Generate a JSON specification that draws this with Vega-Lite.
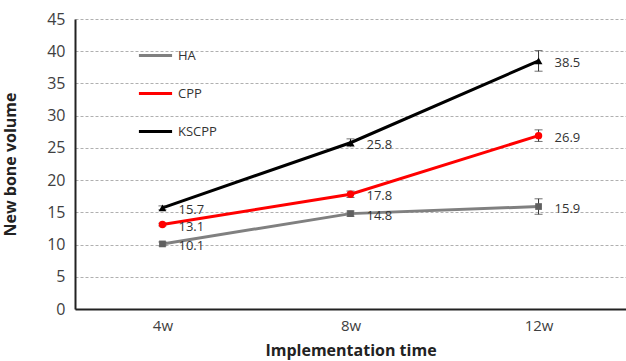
{
  "$schema": "https://vega.github.io/schema/vega-lite/v6.json",
  "width": 551,
  "height": 290,
  "autosize": {"type": "none"},
  "padding": {"left": 75, "top": 19, "right": 0, "bottom": 52},
  "background": "white",
  "config": {
    "font": "Open Sans",
    "view": {"stroke": null}
  },
  "data": {
    "values": [
      {"time": "4w", "group": "HA", "value": 10.1, "lo": 9.8, "hi": 10.4},
      {"time": "8w", "group": "HA", "value": 14.8, "lo": 14.4, "hi": 15.2},
      {"time": "12w", "group": "HA", "value": 15.9, "lo": 14.7, "hi": 17.1},
      {"time": "4w", "group": "CPP", "value": 13.1, "lo": 12.9, "hi": 13.3},
      {"time": "8w", "group": "CPP", "value": 17.8, "lo": 17.3, "hi": 18.3},
      {"time": "12w", "group": "CPP", "value": 26.9, "lo": 26.0, "hi": 27.8},
      {"time": "4w", "group": "KSCPP", "value": 15.7, "lo": 15.4, "hi": 16.0},
      {"time": "8w", "group": "KSCPP", "value": 25.8, "lo": 25.2, "hi": 26.4},
      {"time": "12w", "group": "KSCPP", "value": 38.5, "lo": 36.9, "hi": 40.1}
    ]
  },
  "encoding": {
    "x": {
      "field": "time", "type": "ordinal", "sort": ["4w", "8w", "12w"],
      "scale": {"type": "point", "padding": 0.465},
      "axis": {
        "title": "Implementation time", "titleFontSize": 16, "titleFontWeight": "bold", "titleColor": "#222",
        "titleY": 41, "titleBaseline": "middle",
        "labelAngle": 0, "labelFontSize": 15, "labelColor": "#404040", "labelPadding": 9,
        "domainColor": "#222", "domainWidth": 2, "ticks": false, "grid": false
      }
    },
    "y": {
      "field": "value", "type": "quantitative",
      "scale": {"domain": [0, 45]},
      "axis": {
        "title": "New bone volume", "titleFontSize": 16, "titleFontWeight": "bold", "titleColor": "#222",
        "titleX": -57, "titleY": 145,
        "values": [0, 5, 10, 15, 20, 25, 30, 35, 40, 45],
        "labelFontSize": 16, "labelColor": "#404040", "labelPadding": 10,
        "domainColor": "#222", "domainWidth": 2, "ticks": false,
        "gridColor": "#b0b0b0", "gridDash": [3, 2], "gridWidth": 1
      }
    }
  },
  "layer": [
    {
      "mark": {"type": "line", "strokeWidth": 3},
      "encoding": {
        "color": {
          "field": "group", "type": "nominal",
          "scale": {"domain": ["HA", "CPP", "KSCPP"], "range": ["#808080", "#ff0000", "#000000"]},
          "legend": {
            "orient": "none", "legendX": 62, "legendY": 18, "title": null,
            "symbolType": "stroke", "symbolSize": 1100, "symbolStrokeWidth": 3,
            "labelFontSize": 13, "labelColor": "#333", "rowPadding": 12, "labelOffset": 4
          }
        }
      }
    },
    {
      "mark": {"type": "errorbar", "ticks": {"size": 8, "color": "#333"}, "color": "#333"},
      "encoding": {
        "y": {"field": "lo", "type": "quantitative"},
        "y2": {"field": "hi"}
      }
    },
    {
      "transform": [{"filter": "datum.group === 'HA'"}],
      "mark": {"type": "point", "filled": true, "size": 45, "opacity": 1, "shape": "square", "color": "#606060"}
    },
    {
      "transform": [{"filter": "datum.group === 'CPP'"}],
      "mark": {"type": "point", "filled": true, "size": 55, "opacity": 1, "shape": "circle", "color": "#ff0000"}
    },
    {
      "transform": [{"filter": "datum.group === 'KSCPP'"}],
      "mark": {"type": "point", "filled": true, "size": 60, "opacity": 1, "shape": "triangle-up", "color": "#000000"}
    },
    {
      "mark": {"type": "text", "align": "left", "dx": 16, "dy": 2, "fontSize": 13, "color": "#333"},
      "encoding": {
        "text": {"field": "value", "type": "quantitative", "format": ".1f"}
      }
    }
  ]
}
